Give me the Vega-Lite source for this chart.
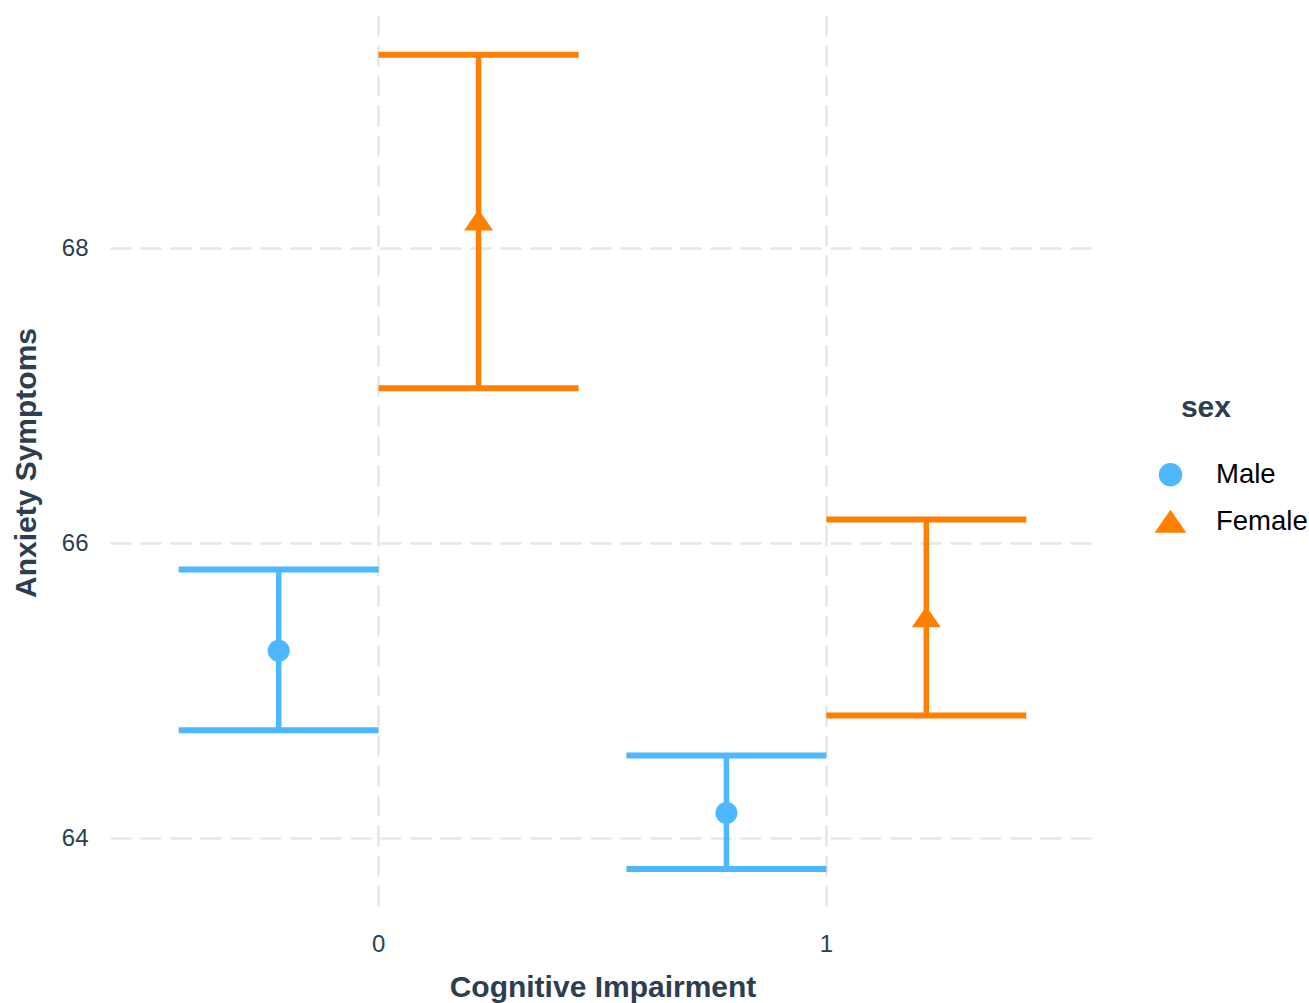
{
  "$schema": "https://vega.github.io/schema/vega-lite/v6.json",
  "width": 985,
  "height": 895,
  "autosize": {"type": "none"},
  "padding": {"left": 110, "top": 15, "right": 214, "bottom": 93},
  "background": "white",
  "config": {
    "font": "Liberation Sans",
    "view": {"stroke": null}
  },
  "data": {
    "values": [
      {"ci": "0", "sex": "Male", "mean": 65.27, "lower": 64.73, "upper": 65.82},
      {"ci": "0", "sex": "Female", "mean": 68.19, "lower": 67.05, "upper": 69.31},
      {"ci": "1", "sex": "Male", "mean": 64.17, "lower": 63.79, "upper": 64.56},
      {"ci": "1", "sex": "Female", "mean": 65.5, "lower": 64.83, "upper": 66.16}
    ]
  },
  "encoding": {
    "x": {
      "field": "ci",
      "type": "nominal",
      "title": "Cognitive Impairment",
      "scale": {"domain": ["0", "1"], "paddingInner": 0, "paddingOuter": 0.1},
      "axis": {
        "labelAngle": 0,
        "grid": true,
        "bandPosition": 0.5,
        "gridDash": [21, 9],
        "gridColor": "#E6E6E6",
        "gridWidth": 2.5,
        "domain": false,
        "ticks": false,
        "tickSize": 0,
        "labelPadding": 22,
        "labelFontSize": 24,
        "labelColor": "#2C3E50",
        "titleFontSize": 30,
        "titleFontWeight": "bold",
        "titleColor": "#2C3E50",
        "titlePadding": 16
      }
    },
    "xOffset": {
      "field": "sex",
      "type": "nominal",
      "scale": {"domain": ["Male", "Female"], "paddingInner": 0, "paddingOuter": 0.12}
    },
    "color": {
      "field": "sex",
      "type": "nominal",
      "scale": {"domain": ["Male", "Female"], "range": ["#4DB8FF", "#FF7F00"]},
      "legend": {
        "title": "sex",
        "orient": "none",
        "legendX": 1045,
        "legendY": 378,
        "titleFontSize": 30,
        "titleFontWeight": "bold",
        "titleColor": "#2C3E50",
        "titleAnchor": "middle",
        "titleAlign": "right",
        "titlePadding": 38,
        "labelFontSize": 27.5,
        "labelColor": "black",
        "labelOffset": 30,
        "rowPadding": 17,
        "symbolOpacity": 1,
        "offset": 0
      }
    }
  },
  "layer": [
    {
      "mark": {"type": "rule", "strokeWidth": 5.5},
      "encoding": {
        "y": {
          "field": "lower",
          "type": "quantitative",
          "title": "Anxiety Symptoms",
          "scale": {"domain": [63.512, 69.58], "nice": false, "zero": false},
          "axis": {
            "values": [64, 66, 68],
            "format": "d",
            "grid": true,
            "gridDash": [21, 9],
            "gridColor": "#E6E6E6",
            "gridWidth": 2.5,
            "domain": false,
            "ticks": false,
            "tickSize": 0,
            "labelPadding": 22,
            "labelFontSize": 24,
            "labelColor": "#2C3E50",
            "titleFontSize": 30,
            "titleFontWeight": "bold",
            "titleColor": "#2C3E50",
            "titlePadding": 20
          }
        },
        "y2": {"field": "upper"}
      }
    },
    {
      "mark": {"type": "tick", "size": 200, "thickness": 6, "opacity": 1},
      "encoding": {"y": {"field": "lower", "type": "quantitative"}}
    },
    {
      "mark": {"type": "tick", "size": 200, "thickness": 6, "opacity": 1},
      "encoding": {"y": {"field": "upper", "type": "quantitative"}}
    },
    {
      "mark": {"type": "point", "filled": true, "opacity": 1},
      "encoding": {
        "y": {"field": "mean", "type": "quantitative"},
        "shape": {
          "field": "sex",
          "type": "nominal",
          "scale": {"domain": ["Male", "Female"], "range": ["circle", "M0,-0.72L1,0.72L-1,0.72Z"]}
        },
        "size": {
          "field": "sex",
          "type": "nominal",
          "scale": {"domain": ["Male", "Female"], "range": [484, 841]}
        }
      }
    }
  ]
}
